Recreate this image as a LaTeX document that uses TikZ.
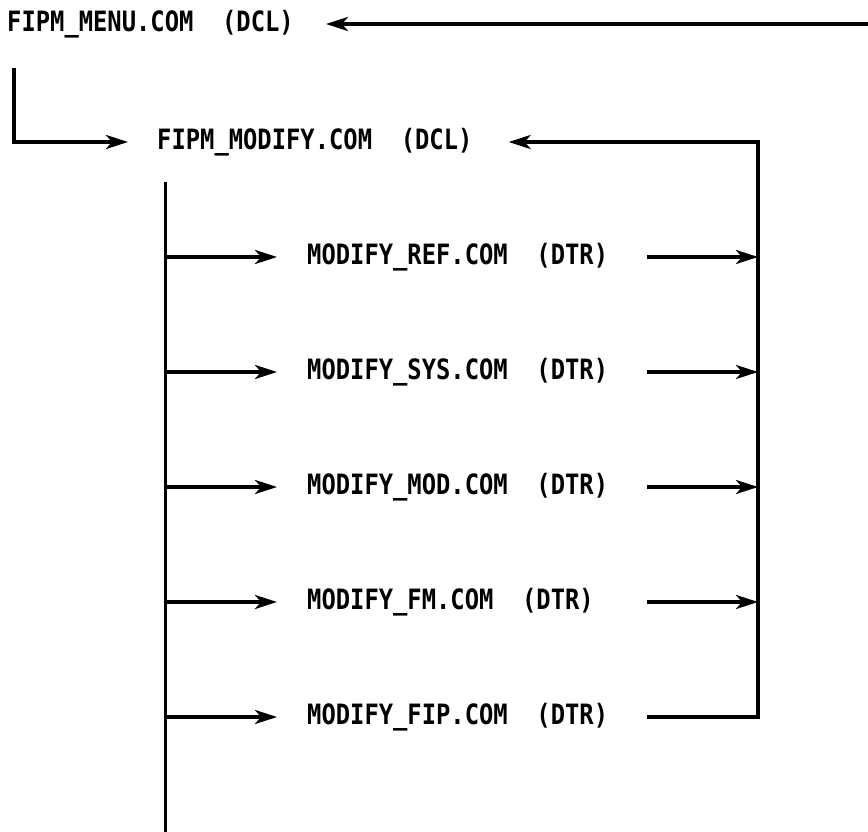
\documentclass[tikz,border=0pt]{standalone}
\usepackage{fontspec}
\setmonofont[FakeStretch=0.85]{DejaVu Sans Mono}
\usetikzlibrary{arrows.meta, positioning}

\begin{document}
\begin{tikzpicture}[x=1pt, y=1pt]
    \tikzstyle{cmdtext}=[inner sep=0pt, anchor=west, font=\ttfamily\bfseries\fontsize{28}{30}\selectfont]
    \tikzstyle{wire}=[line width=3pt]
    \tikzstyle{flow}=[wire, line width=3.5pt, -{Stealth[length=22pt, width=14pt, inset=6pt]}]

    \useasboundingbox (0,0) rectangle (868,-832);

    \node[cmdtext] (menu) at (7,-24) {FIPM\_MENU.COM\ \ (DCL)};
    \node[cmdtext] (modify) at (157,-142) {FIPM\_MODIFY.COM\ \ (DCL)};

    \node[cmdtext] (ref) at (307,-257) {MODIFY\_REF.COM\ \ (DTR)};
    \node[cmdtext, below=115pt of ref.west, anchor=west] (sys) {MODIFY\_SYS.COM\ \ (DTR)};
    \node[cmdtext, below=115pt of sys.west, anchor=west] (mod) {MODIFY\_MOD.COM\ \ (DTR)};
    \node[cmdtext, below=115pt of mod.west, anchor=west] (fm) {MODIFY\_FM.COM\ \ (DTR)};
    \node[cmdtext, below=115pt of fm.west, anchor=west] (fip) {MODIFY\_FIP.COM\ \ (DTR)};

    \coordinate (menuend) at (868,-24);
    \coordinate (outerleft) at (14,-68);
    \coordinate (bustop) at (165,-182);
    \coordinate (busend) at (165,-832);
    \coordinate (retin) at (647,-182);
    \coordinate (retbus) at (758,-142);

    \draw[flow, shorten >=32pt] (menuend) -- (menu);
    \draw[flow, shorten >=29pt] (outerleft) |- (modify);

    \draw[wire] (bustop) -- (busend);
    \draw[flow, shorten >=30pt] (ref -| bustop) -- (ref);
    \draw[flow, shorten >=30pt] (sys -| bustop) -- (sys);
    \draw[flow, shorten >=30pt] (mod -| bustop) -- (mod);
    \draw[flow, shorten >=30pt] (fm -| bustop) -- (fm);
    \draw[flow, shorten >=30pt] (fip -| bustop) -- (fip);

    \draw[flow] (ref -| retin) -- (ref -| retbus);
    \draw[flow] (sys -| retin) -- (sys -| retbus);
    \draw[flow] (mod -| retin) -- (mod -| retbus);
    \draw[flow] (fm -| retin) -- (fm -| retbus);
    \draw[flow, shorten >=36pt] (fip -| retin) -| (retbus) -- (modify);
\end{tikzpicture}
\end{document}
